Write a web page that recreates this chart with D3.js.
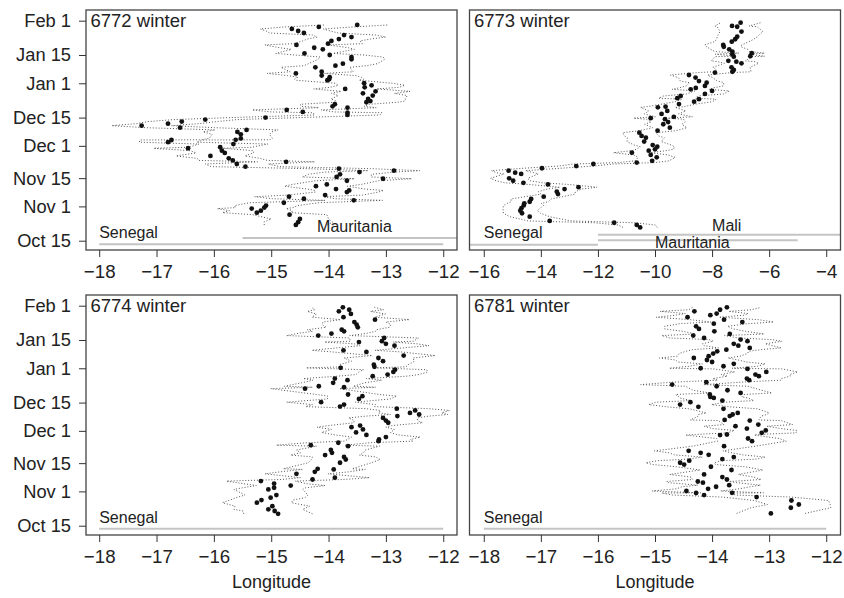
<!DOCTYPE html>
<html>
<head>
<meta charset="utf-8">
<script src="https://d3js.org/d3.v7.min.js"></script>
<style>
body { margin: 0; background: #fff; }
svg { display: block; }
text { font-family: "Liberation Sans", Arial, sans-serif; fill: #222; }
</style>
</head>
<body>
<div id="vis"></div>
<script>
var width = 844;
var height = 598;

// dates as days after Oct 15
var dateTicks = [0, 17, 31, 47, 61, 78, 92, 109];
var dateLabels = ["Oct 15", "Nov 1", "Nov 15", "Dec 1", "Dec 15", "Jan 1", "Jan 15", "Feb 1"];
var lonTicksWide = [-16, -14, -12, -10, -8, -6, -4];
var lonTicksNarrow = [-18, -17, -16, -15, -14, -13, -12];

// each row: [day, longitude, half width of the longitude interval]
var track6772 = [
    [7.8, -14.57, 0.55], [9.2, -14.53, 0.6], [10.8, -14.50, 0.5], [12.9, -14.68, 0.65], [13.9, -15.25, 0.6],
    [14.9, -15.18, 0.55], [15.9, -15.34, 0.6], [16.4, -15.12, 0.5], [17.4, -15.09, 0.55], [18.8, -14.78, 0.6],
    [20.0, -13.56, 0.5], [20.8, -14.43, 0.55], [21.8, -14.69, 0.6], [22.6, -14.06, 0.65], [24.1, -13.68, 0.55],
    [24.9, -13.64, 0.6], [25.6, -13.87, 0.5], [27.0, -14.22, 0.55], [27.9, -14.03, 0.6], [29.7, -13.68, 0.55],
    [30.7, -13.05, 0.5], [31.6, -13.86, 0.6], [32.9, -13.80, 0.55], [34.0, -13.46, 0.6], [34.7, -12.86, 0.45],
    [35.7, -13.82, 0.55], [36.7, -15.45, 0.6], [38.0, -15.60, 0.55], [39.1, -14.74, 0.5], [39.8, -15.67, 0.6],
    [40.8, -15.74, 0.55], [42.0, -16.06, 0.6], [43.5, -15.81, 0.5], [44.6, -15.86, 0.55], [45.8, -16.45, 0.6],
    [46.3, -15.89, 0.55], [47.9, -15.66, 0.6], [48.8, -16.80, 0.5], [49.9, -16.74, 0.55], [50.0, -15.62, 0.6],
    [50.7, -15.53, 0.55], [52.7, -15.53, 0.5], [53.9, -15.59, 0.6], [54.9, -15.43, 0.55], [56.0, -16.59, 0.6],
    [57.0, -17.26, 0.52], [58.0, -16.80, 0.55], [59.0, -16.56, 0.6], [60.0, -16.15, 0.55], [61.0, -15.10, 0.6],
    [62.3, -13.67, 0.57], [63.4, -13.67, 0.6], [63.8, -14.45, 0.55], [64.8, -14.73, 0.6], [65.9, -13.67, 0.5],
    [66.6, -13.93, 0.55], [67.6, -13.89, 0.6], [68.6, -13.34, 0.55], [69.2, -13.27, 0.6], [70.2, -13.31, 0.65],
    [71.9, -13.23, 0.6], [73.0, -13.40, 0.55], [74.0, -13.18, 0.6], [75.2, -13.71, 0.55], [76.0, -13.37, 0.6],
    [77.0, -13.25, 0.58], [78.0, -13.38, 0.5], [79.5, -14.02, 0.55], [80.0, -13.99, 0.6], [81.0, -13.98, 0.55],
    [81.8, -14.12, 0.6], [82.9, -14.57, 0.5], [83.7, -14.12, 0.55], [85.9, -14.23, 0.6], [86.7, -13.88, 0.55],
    [87.7, -13.75, 0.6], [89.9, -13.60, 0.58], [91.0, -13.60, 0.55], [92.0, -13.98, 0.6], [92.8, -14.42, 0.5],
    [94.8, -14.10, 0.55], [95.6, -14.25, 0.6], [97.0, -14.56, 0.55], [97.6, -14.01, 0.6], [99.0, -13.95, 0.5],
    [99.9, -13.82, 0.55], [100.9, -13.60, 0.6], [101.9, -13.73, 0.55], [102.9, -14.43, 0.6], [103.9, -14.53, 0.56],
    [104.9, -14.64, 0.55], [105.9, -14.17, 0.6], [106.9, -13.50, 0.55]
];

var track6773 = [
    [6.6, -10.52, 0.6], [7.8, -10.64, 0.65], [8.9, -11.43, 0.7], [9.8, -13.69, 0.75], [11.9, -14.39, 0.7],
    [13.6, -14.66, 0.65], [14.9, -14.72, 0.6], [16.1, -14.68, 0.65], [17.5, -14.60, 0.7], [18.5, -14.58, 0.6],
    [19.3, -14.39, 0.65], [20.7, -14.34, 0.7], [21.8, -13.90, 0.65], [23.1, -13.40, 0.6], [24.3, -13.44, 0.65],
    [25.6, -13.17, 0.6], [26.5, -12.68, 0.65], [27.9, -13.75, 0.7], [28.7, -14.61, 0.65], [29.7, -14.97, 0.6],
    [30.9, -15.11, 0.65], [33.1, -14.69, 0.6], [33.7, -14.90, 0.65], [34.7, -15.13, 0.6], [35.9, -13.96, 0.65],
    [37.0, -12.76, 0.6], [38.0, -12.16, 0.7], [38.7, -10.64, 0.65], [39.6, -10.10, 0.6], [41.3, -9.94, 0.65],
    [42.5, -10.15, 0.6], [43.6, -10.81, 0.65], [44.6, -10.22, 0.6], [45.3, -10.00, 0.65], [46.6, -9.92, 0.6],
    [47.4, -10.08, 0.65], [49.1, -10.38, 0.6], [51.0, -10.32, 0.65], [51.9, -10.47, 0.6], [53.5, -10.55, 0.58],
    [54.5, -9.91, 0.65], [56.0, -9.48, 0.6], [57.7, -9.71, 0.65], [58.8, -9.54, 0.6], [60.2, -9.65, 0.65],
    [60.7, -10.15, 0.6], [61.4, -9.34, 0.65], [62.8, -9.77, 0.6], [64.3, -9.57, 0.65], [66.1, -9.90, 0.6],
    [66.4, -9.63, 0.65], [67.7, -9.16, 0.6], [68.9, -8.63, 0.65], [70.1, -8.46, 0.6], [70.6, -9.22, 0.65],
    [71.7, -9.10, 0.6], [72.7, -8.25, 0.65], [74.2, -8.00, 0.6], [75.0, -8.75, 0.65], [75.7, -8.57, 0.6],
    [76.7, -8.25, 0.65], [78.3, -8.19, 0.6], [79.1, -8.46, 0.65], [80.8, -8.58, 0.6], [82.1, -8.81, 0.65],
    [83.3, -7.90, 0.6], [83.7, -7.29, 0.65], [84.6, -7.24, 0.6], [85.9, -7.32, 0.65], [87.9, -6.97, 0.6],
    [88.7, -7.15, 0.65], [89.1, -7.43, 0.6], [91.2, -7.24, 0.65], [91.4, -6.66, 0.5], [92.4, -7.29, 0.6],
    [92.9, -6.61, 0.45], [93.7, -7.29, 0.6], [94.8, -7.40, 0.65], [96.1, -7.59, 0.6], [97.0, -7.61, 0.65],
    [98.6, -7.31, 0.6], [99.8, -7.19, 0.65], [101.1, -7.12, 0.7], [103.6, -6.97, 0.75], [106.0, -7.12, 0.7],
    [106.4, -7.30, 0.6], [108.0, -7.00, 0.7]
];

var track6774 = [
    [5.9, -14.88, 0.6], [7.3, -14.94, 0.55], [8.1, -15.05, 0.6], [9.7, -14.98, 0.65], [11.4, -15.25, 0.6],
    [12.7, -15.17, 0.55], [13.9, -15.01, 0.6], [15.2, -14.91, 0.55], [18.0, -15.05, 0.6], [18.8, -14.95, 0.55],
    [19.9, -14.66, 0.6], [20.9, -14.95, 0.55], [22.1, -15.18, 0.6], [22.9, -14.28, 0.55], [23.8, -13.89, 0.6],
    [25.7, -14.56, 0.55], [26.7, -14.24, 0.6], [27.9, -13.91, 0.55], [28.2, -14.19, 0.6], [31.2, -13.80, 0.55],
    [32.8, -13.70, 0.6], [34.1, -13.73, 0.55], [35.0, -14.06, 0.6], [36.1, -13.94, 0.55], [37.5, -13.96, 0.6],
    [39.4, -13.66, 0.55], [39.9, -14.31, 0.6], [41.1, -13.83, 0.55], [41.9, -13.13, 0.6], [42.7, -13.12, 0.55],
    [43.9, -13.00, 0.6], [45.0, -13.34, 0.55], [46.2, -13.52, 0.6], [47.7, -13.40, 0.55], [48.8, -13.60, 0.6],
    [49.6, -13.45, 0.55], [51.0, -12.96, 0.6], [52.1, -13.00, 0.55], [53.4, -13.05, 0.6], [54.3, -12.80, 0.55],
    [55.1, -12.42, 0.5], [55.9, -12.58, 0.55], [57.1, -12.49, 0.6], [58.0, -12.81, 0.55], [59.0, -13.80, 0.6],
    [60.0, -13.73, 0.55], [61.2, -14.13, 0.6], [62.8, -13.47, 0.55], [64.2, -13.41, 0.6], [65.0, -13.66, 0.55],
    [67.9, -14.41, 0.6], [68.6, -13.73, 0.55], [69.1, -14.17, 0.6], [70.8, -13.92, 0.55], [72.1, -13.67, 0.6],
    [72.9, -13.89, 0.55], [74.1, -13.23, 0.6], [74.9, -12.97, 0.55], [76.2, -12.87, 0.6], [77.3, -12.84, 0.55],
    [78.2, -13.79, 0.6], [78.7, -13.20, 0.55], [79.8, -13.21, 0.6], [81.5, -13.05, 0.55], [83.1, -13.13, 0.6],
    [84.3, -12.69, 0.55], [86.1, -13.34, 0.6], [86.9, -13.74, 0.55], [89.2, -12.85, 0.6], [90.1, -13.00, 0.55],
    [91.0, -13.47, 0.6], [91.4, -13.07, 0.55], [93.0, -13.03, 0.6], [94.2, -14.18, 0.55], [95.2, -13.95, 0.6],
    [96.3, -13.73, 0.55], [97.1, -13.77, 0.6], [98.3, -13.49, 0.55], [99.6, -13.51, 0.6], [100.9, -13.55, 0.55],
    [102.1, -13.19, 0.6], [103.3, -13.74, 0.55], [104.9, -13.61, 0.6], [106.2, -13.82, 0.55], [107.0, -13.64, 0.6],
    [108.2, -13.75, 0.55]
];

var track6781 = [
    [6.1, -12.97, 0.6], [8.9, -12.62, 0.7], [10.5, -12.48, 0.55], [12.5, -12.61, 0.65], [14.2, -13.22, 0.6],
    [15.2, -14.14, 0.55], [16.2, -14.28, 0.6], [16.3, -13.65, 0.55], [17.2, -14.45, 0.6], [18.3, -14.07, 0.55],
    [19.3, -13.93, 0.6], [20.1, -13.70, 0.55], [21.3, -14.16, 0.6], [21.9, -14.25, 0.55], [22.9, -13.74, 0.6],
    [24.1, -13.82, 0.55], [25.4, -14.14, 0.6], [27.6, -13.66, 0.55], [29.2, -14.02, 0.6], [30.3, -14.49, 0.55],
    [31.2, -14.56, 0.6], [32.2, -14.40, 0.55], [33.0, -13.82, 0.6], [34.0, -13.62, 0.55], [35.1, -14.06, 0.6],
    [36.1, -14.20, 0.55], [37.1, -14.41, 0.6], [39.4, -13.79, 0.55], [41.9, -13.30, 0.6], [43.2, -13.37, 0.55],
    [44.9, -13.86, 0.6], [45.2, -13.74, 0.55], [46.0, -13.13, 0.6], [47.2, -13.06, 0.55], [48.1, -13.39, 0.6],
    [49.3, -13.59, 0.55], [50.1, -13.19, 0.6], [52.1, -13.34, 0.55], [52.4, -13.78, 0.6], [54.3, -13.69, 0.55],
    [55.1, -13.64, 0.6], [55.9, -13.55, 0.55], [57.9, -13.80, 0.6], [58.9, -14.24, 0.55], [60.0, -14.56, 0.55],
    [61.2, -14.38, 0.6], [62.0, -13.82, 0.55], [63.3, -13.97, 0.6], [63.8, -14.03, 0.55], [65.0, -14.04, 0.6],
    [65.8, -13.50, 0.55], [67.1, -13.73, 0.6], [69.1, -13.92, 0.55], [69.9, -14.70, 0.55], [71.1, -14.10, 0.6],
    [72.1, -13.35, 0.55], [72.9, -13.39, 0.6], [74.1, -13.18, 0.55], [74.9, -13.24, 0.6], [76.2, -13.05, 0.55],
    [77.7, -13.38, 0.6], [78.0, -14.20, 0.55], [79.0, -13.80, 0.6], [80.2, -13.62, 0.55], [81.1, -14.00, 0.6],
    [82.1, -14.09, 0.55], [83.1, -14.32, 0.6], [84.0, -14.06, 0.55], [85.3, -13.98, 0.6], [86.4, -13.91, 0.55],
    [87.2, -13.75, 0.6], [88.1, -13.34, 0.55], [89.2, -13.54, 0.6], [90.1, -13.62, 0.55], [91.4, -13.38, 0.6],
    [92.2, -13.50, 0.55], [93.0, -14.14, 0.6], [94.2, -14.33, 0.55], [95.0, -13.69, 0.6], [96.3, -13.96, 0.55],
    [97.5, -14.23, 0.6], [98.8, -14.28, 0.55], [100.1, -13.97, 0.6], [100.9, -13.47, 0.55], [102.1, -13.79, 0.6],
    [103.3, -14.43, 0.55], [104.3, -14.03, 0.6], [105.1, -13.92, 0.55], [106.2, -14.31, 0.6], [107.0, -13.86, 0.55],
    [108.2, -13.74, 0.6]
];

// country extents along the bottom, in longitude
var countryNames6772 = ["Senegal", "Mauritania"];
var countryFrom6772 = [-18, -15.5];
var countryTo6772 = [-12, -11.5];
var countryNames6773 = ["Senegal", "Mauritania", "Mali"];
var countryFrom6773 = [-17, -12, -12];
var countryTo6773 = [-12, -5, -3];
var countryNamesSen = ["Senegal"];
var countryFromSen = [-18];
var countryToSen = [-12];

var panelW = 371;
var panelH = 240;

// layout: line offset from frame bottom, label x (longitude), label baseline offset
var panels = [
    { title: "6772 winter", track: track6772, names: countryNames6772, from: countryFrom6772, to: countryTo6772,
      ticks: lonTicksNarrow, dom: [-18.23, -11.76], left: 86, top: 10, yAxis: true, xTitle: false,
      lineOff: [5.7, 12], labX: [-18, -14.2], labOff: [12.3, 18] },
    { title: "6773 winter", track: track6773, names: countryNames6773, from: countryFrom6773, to: countryTo6773,
      ticks: lonTicksWide, dom: [-16.5, -3.5], left: 469.5, top: 10, yAxis: false, xTitle: false,
      lineOff: [5.3, 9.7, 15.3], labX: [-16, -10.0, -8.0], labOff: [12.3, 2.5, 19.5] },
    { title: "6774 winter", track: track6774, names: countryNamesSen, from: countryFromSen, to: countryToSen,
      ticks: lonTicksNarrow, dom: [-18.23, -11.76], left: 86, top: 295, yAxis: true, xTitle: true,
      lineOff: [6.3], labX: [-18], labOff: [11.7] },
    { title: "6781 winter", track: track6781, names: countryNamesSen, from: countryFromSen, to: countryToSen,
      ticks: lonTicksNarrow, dom: [-18.25, -11.75], left: 469.5, top: 295, yAxis: false, xTitle: true,
      lineOff: [6.3], labX: [-18], labOff: [11.7] }
];

var svgElement = d3.select('#vis').append('svg')
    .attr('width', width)
    .attr('height', height);

function drawPanel(p, k) {
    var x = d3.scaleLinear().domain(p.dom).range([p.left, p.left + panelW]);
    var y = d3.scaleLinear().domain([-4.6, 114.3]).range([p.top + panelH, p.top]);
    var bottom = p.top + panelH;

    var clipId = 'clip' + k;
    svgElement.append('clipPath').attr('id', clipId)
        .append('rect')
        .attr('x', p.left).attr('y', p.top)
        .attr('width', panelW).attr('height', panelH);

    var g = svgElement.append('g');
    var inner = g.append('g').attr('clip-path', 'url(#' + clipId + ')');

    // country ranges
    for (var c = 0; c < p.names.length; c++) {
        inner.append('line')
            .attr('x1', x(p.from[c])).attr('x2', x(p.to[c]))
            .attr('y1', bottom - p.lineOff[c]).attr('y2', bottom - p.lineOff[c])
            .attr('stroke', '#c4c4c4')
            .attr('stroke-width', 2);
    }
    for (var c = 0; c < p.names.length; c++) {
        g.append('text')
            .attr('x', x(p.labX[c]))
            .attr('y', bottom - p.labOff[c])
            .attr('font-size', 16)
            .text(p.names[c]);
    }

    // interval bounds
    var lower = d3.line().x(function (d) { return x(d[1] - d[2]); }).y(function (d) { return y(d[0]); });
    var upper = d3.line().x(function (d) { return x(d[1] + d[2]); }).y(function (d) { return y(d[0]); });
    [lower, upper].forEach(function (fn) {
        inner.append('path')
            .attr('d', fn(p.track))
            .attr('fill', 'none')
            .attr('stroke', '#555')
            .attr('stroke-width', 1)
            .attr('stroke-dasharray', '1,1.9');
    });

    inner.selectAll('circle.fix')
        .data(p.track)
        .enter()
        .append('circle')
        .attr('class', 'fix')
        .attr('cx', function (d) { return x(d[1]); })
        .attr('cy', function (d) { return y(d[0]); })
        .attr('r', 2.4)
        .attr('fill', '#111');

    // frame
    g.append('rect')
        .attr('x', p.left).attr('y', p.top)
        .attr('width', panelW).attr('height', panelH)
        .attr('fill', 'none')
        .attr('stroke', '#444')
        .attr('stroke-width', 1.3);

    // x axis
    var xAxis = g.append('g')
        .attr('transform', 'translate(0,' + bottom + ')')
        .call(d3.axisBottom(x).tickValues(p.ticks).tickSize(7).tickPadding(8)
            .tickFormat(function (v) { return String(v).replace('-', '\u2212'); }));
    xAxis.select('.domain').remove();
    xAxis.selectAll('line').attr('stroke', '#333');
    xAxis.selectAll('text').attr('font-size', 18.7).attr('font-family', '"Liberation Sans", Arial, sans-serif').attr('fill', '#222');

    if (p.yAxis) {
        var yAxis = g.append('g')
            .attr('transform', 'translate(' + p.left + ',0)')
            .call(d3.axisLeft(y).tickValues(dateTicks).tickSize(7).tickPadding(8)
                .tickFormat(function (v, i) { return dateLabels[i]; }));
        yAxis.select('.domain').remove();
        yAxis.selectAll('line').attr('stroke', '#333');
        yAxis.selectAll('text').attr('font-size', 18.3).attr('font-family', '"Liberation Sans", Arial, sans-serif').attr('fill', '#222');
    }

    g.append('text')
        .attr('x', p.left + 4.5)
        .attr('y', p.top + 17)
        .attr('font-size', 18.5)
        .text(p.title);

    if (p.xTitle) {
        g.append('text')
            .attr('x', p.left + panelW / 2)
            .attr('y', 588)
            .attr('text-anchor', 'middle')
            .attr('font-size', 18)
            .text('Longitude');
    }
}

for (var i = 0; i < panels.length; i++) {
    drawPanel(panels[i], i);
}
</script>
</body>
</html>
